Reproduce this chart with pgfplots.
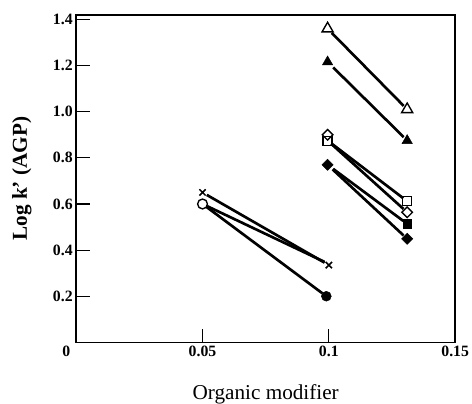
\documentclass[border=0pt]{standalone}
\usepackage{fontspec}
\setmainfont{Liberation Serif}
\usepackage{pgfplots}
\pgfplotsset{compat=1.18}
\begin{document}
\begin{tikzpicture}
\begin{axis}[
  scale only axis, width=383bp, height=331bp,
  xmin=0, xmax=0.15, ymin=0, ymax=1.42,
  xtick={0,0.05,0.1,0.15}, xticklabels={\makebox[0pt][r]{0\hspace{6bp}},0.05,0.1,0.15},
  ytick={0.2,0.4,0.6,0.8,1.0,1.2,1.4}, yticklabels={0.2,0.4,0.6,0.8,1.0,1.2,1.4},
  tick align=inside, xtick pos=bottom, ytick pos=left,
  tick style={line width=1.2pt, black},
  major tick length=14bp,
  axis line style={line width=1.6pt},
  tick label style={font=\fontsize{16}{16}\selectfont\bfseries},
  xlabel={Organic modifier}, ylabel={Log k' (AGP)},
  xlabel style={font=\fontsize{21.5}{21.5}\selectfont, at={([yshift=-52bp]axis description cs:0.5,0)}, anchor=center},
  ylabel style={font=\fontsize{21.5}{21.5}\selectfont\bfseries, at={([xshift=-55bp]axis description cs:0,0.5)}, anchor=center},
  clip=false,
  every axis plot/.append style={line width=2.7pt, black},
]
\coordinate (ll) at (rel axis cs:0,0);
\coordinate (ur) at (rel axis cs:1,1);
% lines
\addplot[no marks, shorten <=5pt, shorten >=5pt] coordinates {(0.05,0.65) (0.1,0.335)};
\addplot[no marks, shorten <=5pt, shorten >=5pt] coordinates {(0.05,0.60) (0.1,0.34)};
\addplot[no marks, shorten <=5pt, shorten >=5pt] coordinates {(0.05,0.60) (0.099,0.20)};
\addplot[no marks, shorten <=6pt, shorten >=5pt] coordinates {(0.0995,1.36) (0.131,1.01)};
\addplot[no marks, shorten <=8pt, shorten >=5pt] coordinates {(0.0995,1.216) (0.131,0.875)};
\addplot[no marks, shorten <=5pt, shorten >=5pt] coordinates {(0.0995,0.875) (0.131,0.612)};
\addplot[no marks, shorten <=5pt, shorten >=5pt] coordinates {(0.0995,0.875) (0.131,0.564)};
\addplot[no marks, shorten <=7pt, shorten >=5pt] coordinates {(0.0995,0.77) (0.131,0.514)};
\addplot[no marks, shorten <=7pt, shorten >=5pt] coordinates {(0.0995,0.77) (0.131,0.449)};
% markers
\addplot[only marks, mark=x, mark size=4.5pt, mark options={line width=1.5pt}] coordinates {(0.05,0.65) (0.1,0.335)};
\addplot[only marks, mark=o, mark size=5pt, mark options={line width=1.4pt, fill=white}] coordinates {(0.05,0.60)};
\addplot[only marks, mark=*, mark size=5pt, mark options={line width=0.5pt}] coordinates {(0.099,0.20)};
\addplot[only marks, mark=triangle, mark size=6.5pt, mark options={line width=1.4pt, fill=white}] coordinates {(0.0995,1.36) (0.131,1.01)};
\addplot[only marks, mark=triangle*, mark size=6pt, mark options={line width=0.5pt}] coordinates {(0.0995,1.216) (0.131,0.875)};
\addplot[only marks, mark=square, mark size=4.5pt, mark options={line width=1.4pt, fill=white}] coordinates {(0.0995,0.872) (0.131,0.612)};
\addplot[only marks, mark=square, mark size=3.8pt, mark options={line width=1.4pt, fill=white, rotate=45}] coordinates {(0.0995,0.90) (0.131,0.564)};
\addplot[only marks, mark=square*, mark size=4.4pt, mark options={line width=0.5pt}] coordinates {(0.131,0.514)};
\addplot[only marks, mark=square*, mark size=4pt, mark options={line width=0.5pt, rotate=45}] coordinates {(0.0995,0.77) (0.131,0.449)};
\end{axis}
\pgfresetboundingbox
\path ([xshift=-77bp,yshift=-62bp]ll) rectangle ([xshift=17bp,yshift=15bp]ur);
\end{tikzpicture}
\end{document}
